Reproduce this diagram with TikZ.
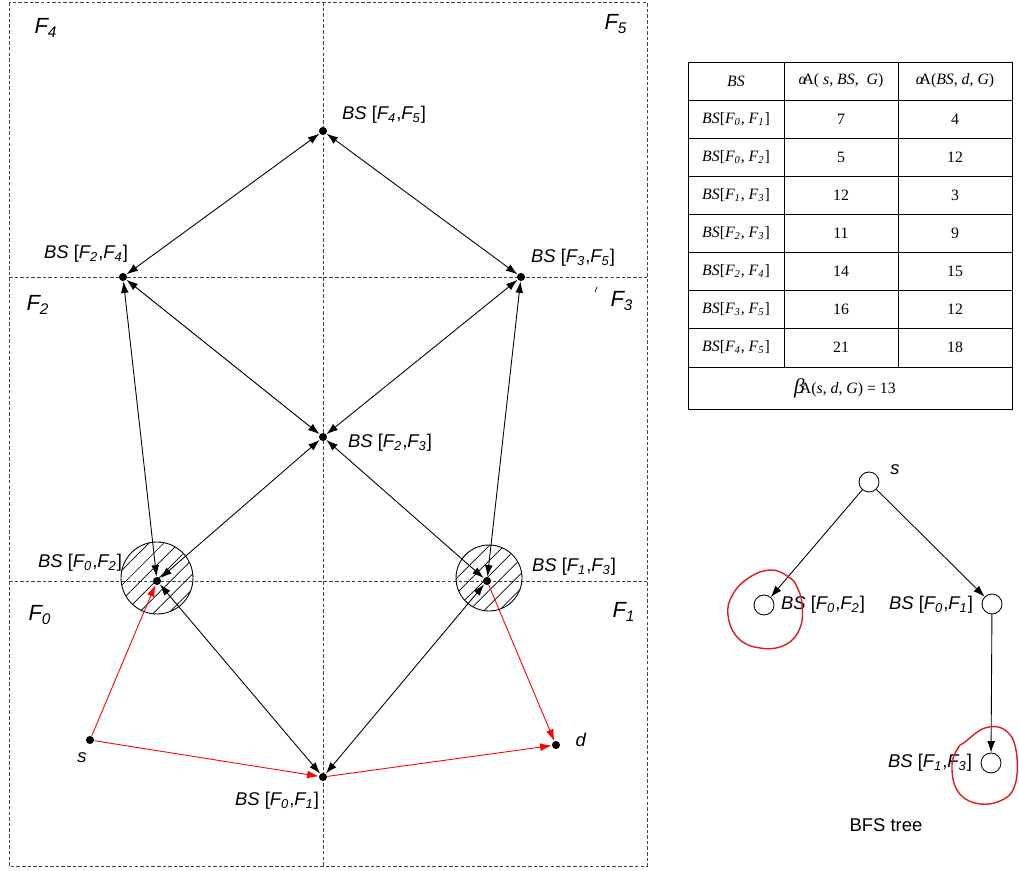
\documentclass[tikz,border=0pt]{standalone}
\usepackage{fontspec}
\setmainfont{Liberation Sans}
\newfontfamily\timesfont{Liberation Serif}
\usetikzlibrary{arrows.meta,patterns.meta}
\definecolor{grenze}{RGB}{70,70,70}
\definecolor{kringel}{RGB}{220,30,30}
\newcommand{\Fi}[1]{\textit{F\textsubscript{#1}}}
\newcommand{\bslab}[2]{\textit{BS} [\Fi{#1},\Fi{#2}]}
\newcommand{\tbs}[2]{\textit{BS}[\Fi{#1}, \Fi{#2}]}

\begin{document}
\begin{tikzpicture}[x=0.02cm, y=-0.02cm, >={Latex[length=6.5pt,width=4.5pt]}, line width=0.5pt,
	dot/.style={circle, fill, inner sep=0pt, minimum size=4.6pt},
	tcirc/.style={circle, draw, inner sep=0pt, minimum size=0.4cm},
	lab/.style={font=\fontsize{10.5}{12}\selectfont},
	feld/.style={font=\fontsize{12.5}{14}\selectfont\itshape},
	tab/.style={font=\fontsize{9}{10}\selectfont\timesfont},
	grid/.style={grenze, dash pattern=on 2pt off 1.2pt, line width=0.4pt}]

	\useasboundingbox (0,0) rectangle (1019,871);

	% felder
	\draw[grid] (9,2) rectangle (647,866);
	\draw[grid] (323,2) -- (323,866);
	\draw[grid] (9,277) -- (647,277);
	\draw[grid] (9,581) -- (647,581);
	\draw[thin] (595,292) -- (597,287);

	\node[feld] (F4) at (46,28) {F\textsubscript{4}};
	\node[feld] (F5) at (616,24) {F\textsubscript{5}};
	\node[feld] (F2) at (38,305) {F\textsubscript{2}};
	\node[feld] (F3) at (622,301) {F\textsubscript{3}};
	\node[feld] (F0) at (40,615) {F\textsubscript{0}};
	\node[feld] (F1) at (624,612) {F\textsubscript{1}};

	% schraffierte kreise
	\draw[pattern={Lines[angle=45,distance=6pt,line width=0.4pt]}] (157,578) circle (36);
	\draw[pattern={Lines[angle=45,distance=6pt,line width=0.4pt]}] (489,578) circle (33);

	% basisstationen
	\node[dot] (bs45) at (323,131) {};
	\node[dot] (bs24) at (123,277) {};
	\node[dot] (bs35) at (521,277) {};
	\node[dot] (bs23) at (323,437) {};
	\node[dot] (bs02) at (157,581) {};
	\node[dot] (bs13) at (487,581) {};
	\node[dot] (bs01) at (323,777) {};
	\node[dot] (s) at (90,740) {};
	\node[dot] (d) at (556,745) {};

	\node[lab] (l45) at (384,115) {\bslab{4}{5}};
	\node[lab] (l24) at (86,254) {\bslab{2}{4}};
	\node[lab] (l35) at (573,258) {\bslab{3}{5}};
	\node[lab] (l23) at (390,443) {\bslab{2}{3}};
	\node[lab] (l02) at (80,563) {\bslab{0}{2}};
	\node[lab] (l13) at (574,567) {\bslab{1}{3}};
	\node[lab] (l01) at (277,801) {\bslab{0}{1}};
	\node[lab] (ls) at (82,758) {\textit{s}};
	\node[lab] (ld) at (581,740) {\textit{d}};

	\draw[<->] (bs45) -- (bs24);
	\draw[<->] (bs45) -- (bs35);
	\draw[<->] (bs24) -- (bs23);
	\draw[<->] (bs35) -- (bs23);
	\draw[<->] (bs24) -- (bs02);
	\draw[<->] (bs35) -- (bs13);
	\draw[<->] (bs02) -- (bs23);
	\draw[<->] (bs13) -- (bs23);
	\draw[<->] (bs02) -- (bs01);
	\draw[<->] (bs13) -- (bs01);

	\draw[red,->] (s) -- (bs02);
	\draw[red,->] (s) -- (bs01);
	\draw[red,->] (bs01) -- (d);
	\draw[red,->] (bs13) -- (d);

	% tabelle
	\draw[thin] (688,62) rectangle (1012,409);
	\foreach \y in {100,138,176,214,252,290,328,367}
		\draw[thin] (688,\y) -- (1012,\y);
	\draw[thin] (784,62) -- (784,367);
	\draw[thin] (898,62) -- (898,367);

	\node[tab] (h1) at (736,81) {\textit{BS}};
	\node[tab] (h2) at (841,81) {\textit{α}\kern-0.3emA( \textit{s}, \textit{BS},\ \ \textit{G})};
	\node[tab] (h3) at (955,81) {\textit{α}\kern-0.3emA(\textit{BS}, \textit{d}, \textit{G})};
	\foreach \a/\b/\u/\v [count=\i] in {0/1/7/4, 0/2/5/12, 1/3/12/3, 2/3/11/9, 2/4/14/15, 3/5/16/12, 4/5/21/18} {
		\node[tab] (r\i a) at (736,81+38*\i) {\tbs{\a}{\b}};
		\node[tab] (r\i b) at (841,81+38*\i) {\u};
		\node[tab] (r\i c) at (955,81+38*\i) {\v};
	}
	\node[tab] (beta) at (845,388) {{\fontsize{12}{12}\selectfont\itshape β}\kern-0.3emA(\textit{s}, \textit{d}, \textit{G}) = 13};

	% BFS baum
	\node[tcirc] (ts) at (869,482) {};
	\node[tcirc] (t02) at (764,605) {};
	\node[tcirc] (t01) at (992,604) {};
	\node[tcirc] (t13) at (991,763) {};

	\node[lab] (tsl) at (895,470) {\textit{s}};
	\node[lab] (t02l) at (823,605) {\bslab{0}{2}};
	\node[lab] (t01l) at (931,605) {\bslab{0}{1}};
	\node[lab] (t13l) at (930,763) {\bslab{1}{3}};
	\node[lab] (tcap) at (886,825) {BFS tree};

	\draw[->] (ts) -- (t02);
	\draw[->] (ts) -- (t01);
	\draw[->] (t01) -- (t13);

	\draw[kringel, line width=0.8pt] plot[smooth cycle, tension=0.7] coordinates {(790,578) (772,570) (750,577) (733,594) (728,615) (738,638) (760,648) (785,645) (800,628) (802,604) (797,587)};
	\draw[kringel, line width=0.8pt] plot[smooth cycle, tension=0.7] coordinates {(965,742) (985,728) (1005,730) (1016,750) (1015,785) (1000,801) (975,803) (957,790) (952,765) (958,748)};

\end{tikzpicture}
\end{document}
